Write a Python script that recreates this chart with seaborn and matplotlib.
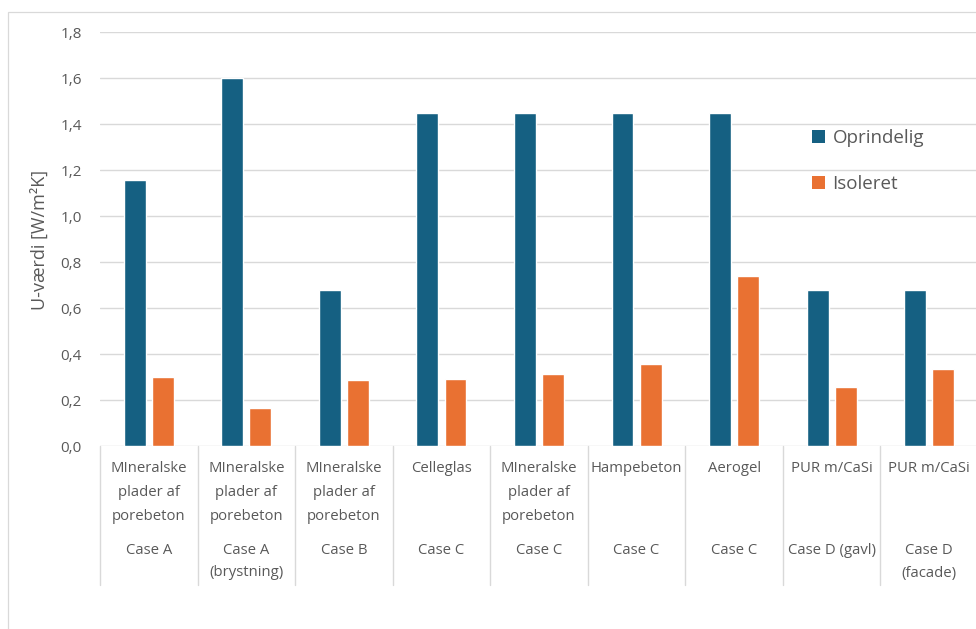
import numpy as np
import pandas as pd
import matplotlib
matplotlib.use("Agg")
import matplotlib.pyplot as plt
from matplotlib.patches import Rectangle, Patch
from matplotlib.transforms import blended_transform_factory
import seaborn as sns

# Categories: insulation material and case
materialer = [
    "MIneralske\nplader af\nporebeton",
    "MIneralske\nplader af\nporebeton",
    "MIneralske\nplader af\nporebeton",
    "Celleglas",
    "MIneralske\nplader af\nporebeton",
    "Hampebeton",
    "Aerogel",
    "PUR m/CaSi",
    "PUR m/CaSi",
]
cases = [
    "Case A",
    "Case A\n(brystning)",
    "Case B",
    "Case C",
    "Case C",
    "Case C",
    "Case C",
    "Case D (gavl)",
    "Case D\n(facade)",
]

# U-values [W/m²K]
oprindelig = [1.155, 1.60, 0.68, 1.45, 1.45, 1.45, 1.45, 0.68, 0.68]
isoleret = [0.30, 0.165, 0.285, 0.29, 0.315, 0.355, 0.74, 0.255, 0.335]

serier = ["Oprindelig", "Isoleret"]
yticks = [0.0, 0.2, 0.4, 0.6, 0.8, 1.0, 1.2, 1.4, 1.6, 1.8]

BLUE = "#156082"
ORANGE = "#E97132"
GRID = "#D9D9D9"
TXT = "#595959"

sns.set_theme(style="white")
plt.rcParams["font.family"] = ["Open Sans", "DejaVu Sans"]

keys = [f"{i}" for i in range(len(materialer))]
df = pd.DataFrame({
    "kategori": keys * 2,
    "serie": [serier[0]] * len(keys) + [serier[1]] * len(keys),
    "U": oprindelig + isoleret,
})

W, H = 976, 629
fig = plt.figure(figsize=(W / 100, H / 100), dpi=100)
ax_left, ax_right, ax_top, ax_bottom = 100, 978, 32, 446
ax = fig.add_axes([ax_left / W, 1 - ax_bottom / H,
                   (ax_right - ax_left) / W, (ax_bottom - ax_top) / H])

# chart-area border
fig.patches.append(Rectangle((8 / W, -0.2), 1.2, 1 - 12 / H + 0.2,
                             transform=fig.transFigure, fill=False,
                             edgecolor=GRID, linewidth=0.9, zorder=0))

sns.barplot(data=df, x="kategori", y="U", hue="serie", order=keys,
            hue_order=serier, palette=[BLUE, ORANGE], width=0.575, gap=0.22,
            saturation=1, legend=False, ax=ax, zorder=3)

ax.set_xlim(-0.5, len(keys) - 0.5)
ax.set_ylim(0, 1.8)
ax.set_yticks(yticks)
ax.set_yticklabels([f"{v:.1f}".replace(".", ",") for v in yticks],
                   fontsize=11, color=TXT)
ax.tick_params(axis="y", length=0, pad=13)
ax.set_xticks([])
ax.set_xlabel("")
ax.set_ylabel("")
for s in ax.spines.values():
    s.set_visible(False)
ax.yaxis.grid(True, color=GRID, linewidth=1.0, zorder=0)
ax.set_axisbelow(True)

# two-level category axis
ax_h = ax_bottom - ax_top
trans = blended_transform_factory(ax.transData, ax.transAxes)
for k in range(len(keys) + 1):
    ax.plot([k - 0.5, k - 0.5], [0, -139 / ax_h], transform=trans,
            color=GRID, linewidth=1.0, clip_on=False)

mat_offsets = [23, 47, 70]
case_offsets = [104, 127]
for i, (m, c) in enumerate(zip(materialer, cases)):
    for line, off in zip(m.split("\n"), mat_offsets):
        ax.text(i, -off / ax_h, line, transform=trans, ha="center",
                va="center", fontsize=10.7, color=TXT)
    for line, off in zip(c.split("\n"), case_offsets):
        ax.text(i, -off / ax_h, line, transform=trans, ha="center",
                va="center", fontsize=10.7, color=TXT)

fig.text(40 / W, 1 - 240 / H, "U-værdi [W/m²K]", rotation=90,
         ha="center", va="center", fontsize=13, color=TXT)

handles = [Patch(facecolor=BLUE, edgecolor="none"),
           Patch(facecolor=ORANGE, edgecolor="none")]
fig.legend(handles, serier, loc="upper left",
           bbox_to_anchor=(812 / W, 1 - 129 / H), frameon=False,
           fontsize=13.5, labelcolor=TXT, handlelength=0.7,
           handleheight=0.7, handletextpad=0.4, labelspacing=1.5,
           borderaxespad=0, borderpad=0)

fig.savefig("out.png", dpi=100)
